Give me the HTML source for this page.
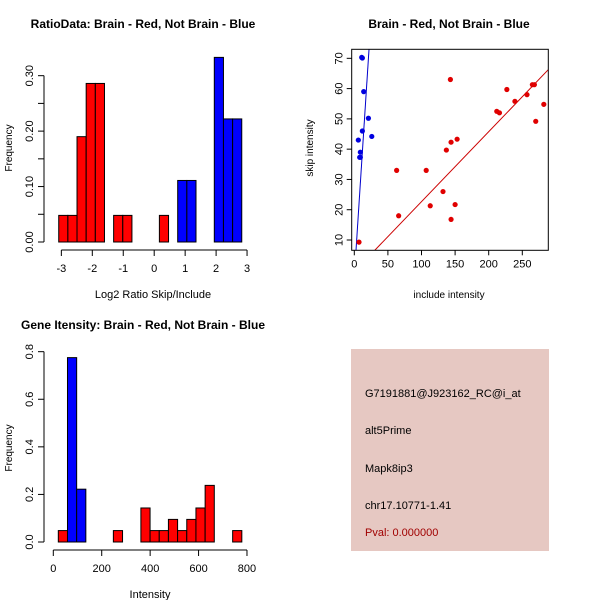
<!DOCTYPE html>
<html><head><meta charset="utf-8"><style>
body{margin:0;background:#fff;}
svg{display:block;font-family:"Liberation Sans",sans-serif;}
</style></head><body>
<svg id="c" width="600" height="600" viewBox="0 0 600 600">
<rect width="600" height="600" fill="#fff"/>
<g id="p1"></g>
<g id="p2"></g>
<g id="p3"></g>
<g id="p4">
<rect x="351" y="349" width="198" height="202" fill="#e6c8c2"/>
<text x="365" y="397" font-size="11" fill="#000">G7191881@J923162_RC@i_at</text>
<text x="365" y="434" font-size="11" fill="#000">alt5Prime</text>
<text x="365" y="472" font-size="11" fill="#000">Mapk8ip3</text>
<text x="365" y="509" font-size="11" fill="#000">chr17.10771-1.41</text>
<text x="365" y="536" font-size="11" fill="#a00000">Pval: 0.000000</text>
</g>
</svg>
<script>
// Ratio histogram data
const ratioStart = -3.085, ratioWidth = 0.2957;
const ratioBins = [0,1,2,3,4,6,7,11,13,14,17,18,19];
const ratioFreq = [0.048,0.048,0.19,0.286,0.286,0.048,0.048,0.048,0.111,0.111,0.333,0.222,0.222];
const ratioGroup = ['r','r','r','r','r','r','r','r','b','b','b','b','b'];
const ratioXTicks = [-3,-2,-1,0,1,2,3];
const ratioYTicks = [0,0.05,0.1,0.15,0.2,0.25,0.3];
const ratioYLabels = ['0.00','','0.10','','0.20','','0.30'];
// Scatter data
const redX = [7,63,66,107,113,132,137,143,144,144,150,153,212,216,227,239,257,265,268,270,282];
const redY = [9.3,33,18,33,21.3,26,39.7,63,42.3,16.8,21.7,43.3,52.5,52,59.7,55.8,58,61.3,61.3,49.2,54.8];
const blueX = [11,12,14,21,12,26,6,9,9,8];
const blueY = [70.3,70.1,59,50.2,46,44.2,43,39,37.3,37.3];
const redFit = [-0.43,0.231];
const blueFit = [-2.1,3.43];
const scXTicks = [0,50,100,150,200,250];
const scYTicks = [10,20,30,40,50,60,70];
// Gene intensity histogram data
const geneStart = 20.7, geneWidth = 37.9;
const geneBins = [0,1,2,6,9,10,11,12,13,14,15,16,19];
const geneFreq = [0.048,0.775,0.222,0.048,0.143,0.048,0.048,0.095,0.048,0.095,0.143,0.238,0.048];
const geneGroup = ['r','b','b','r','r','r','r','r','r','r','r','r','r'];
const geneXTicks = [0,200,400,600,800];
const geneYTicks = [0,0.2,0.4,0.6,0.8];
const geneYLabels = ['0.0','0.2','0.4','0.6','0.8'];

const NS='http://www.w3.org/2000/svg';
function mk(parent,tag,attrs,txt){const e=document.createElementNS(NS,tag);for(const k in attrs)e.setAttribute(k,attrs[k]);if(txt!==undefined)e.textContent=txt;parent.appendChild(e);return e;}
const col={r:'#ff0000',b:'#0000ff'};

function hist(g,o){
  const X=v=>o.x0+(v-o.xa)*o.xs, Y=v=>o.y0-v*o.ys;
  o.bins.forEach((b,i)=>{
    const l=o.start+b*o.width;
    const r=mk(g,'rect',{x:X(l),y:Y(o.freq[i]),width:X(l+o.width)-X(l),height:o.y0-Y(o.freq[i]),fill:col[o.group[i]],stroke:'#000','stroke-width':1});
    
    
  });
  // x axis
  const ax=mk(g,'g',{});
  
  
  const xt=o.xticks;
  mk(ax,'line',{x1:X(xt[0]),x2:X(xt[xt.length-1]),y1:o.axY,y2:o.axY,stroke:'#000'});
  xt.forEach(t=>{mk(ax,'line',{x1:X(t),x2:X(t),y1:o.axY,y2:o.axY+6,stroke:'#000'});
    const tx=mk(ax,'text',{x:X(t),y:o.axY+22,'font-size':11,'text-anchor':'middle'},String(t));
    
    });
  const xl=mk(g,'text',{x:o.xlabX,y:o.xlabY,'font-size':11,'text-anchor':'middle'},o.xlab);
  
  
  // y axis
  const ay=mk(g,'g',{});
  
  
  const yt=o.yticks;
  mk(ay,'line',{x1:o.axX,x2:o.axX,y1:Y(yt[0]),y2:Y(yt[yt.length-1]),stroke:'#000'});
  yt.forEach((t,i)=>{mk(ay,'line',{x1:o.axX-6,x2:o.axX,y1:Y(t),y2:Y(t),stroke:'#000'});
    if(o.ylabels[i]){const tx=mk(ay,'text',{x:0,y:0,'font-size':11,'text-anchor':'middle',transform:`translate(${o.axX-11},${Y(t)}) rotate(-90)`},o.ylabels[i]);
    
    }});
  const yl=mk(g,'text',{x:0,y:0,'font-size':10,'text-anchor':'middle',transform:`translate(12,${o.ylabY}) rotate(-90)`},'Frequency');
  
  
  const ti=mk(g,'text',{x:o.titleX,y:o.titleY,'font-size':12,'font-weight':'bold','text-anchor':'middle'},o.title);
  
  
}

hist(document.getElementById('p1'),{xa:0,x0:154.2,xs:30.95,y0:242,ys:554.4,start:ratioStart,width:ratioWidth,bins:ratioBins,freq:ratioFreq,group:ratioGroup,
  xticks:ratioXTicks,yticks:ratioYTicks,ylabels:ratioYLabels,axY:250,axX:44,xlab:'Log2 Ratio Skip/Include',xlabX:153,xlabY:298,ylabY:148,
  title:'RatioData: Brain - Red, Not Brain - Blue',titleX:143,titleY:28});
hist(document.getElementById('p3'),{xa:0,x0:53.3,xs:0.2421,y0:542,ys:237.9,start:geneStart,width:geneWidth,bins:geneBins,freq:geneFreq,group:geneGroup,
  xticks:geneXTicks,yticks:geneYTicks,ylabels:geneYLabels,axY:550,axX:44,xlab:'Intensity',xlabX:150,xlabY:598,ylabY:448,
  title:'Gene Itensity: Brain - Red, Not Brain - Blue',titleX:143,titleY:329});

// scatter
(function(){
  const g=document.getElementById('p2');
  const L=351.7,R=548.3,T=49.3,B=250.3;
  const X=v=>354.3+v*0.672, Y=v=>240-(v-10)*3.028;
  const cp=mk(g,'clipPath',{id:'clp'});mk(cp,'rect',{x:L,y:T,width:R-L,height:B-T});
  const lg=mk(g,'g',{'clip-path':'url(#clp)'});
  [[redFit,'#cc0000','red-fit-line'],[blueFit,'#0000cc','blue-fit-line']].forEach(([f,c,n])=>{
    const l=mk(lg,'line',{x1:X(-20),y1:Y(f[0]+f[1]*-20),x2:X(320),y2:Y(f[0]+f[1]*320),stroke:c,'stroke-width':1});
    
    
  });
  redX.forEach((x,i)=>{const c=mk(g,'circle',{cx:X(x),cy:Y(redY[i]),r:2.6,fill:'#e00000'});
    
    });
  blueX.forEach((x,i)=>{const c=mk(g,'circle',{cx:X(x),cy:Y(blueY[i]),r:2.6,fill:'#0000e0'});
    
    });
  const fr=mk(g,'rect',{x:L,y:T,width:R-L,height:B-T,fill:'none',stroke:'#000'});
  
  
  scXTicks.forEach(t=>{mk(g,'line',{x1:X(t),x2:X(t),y1:B,y2:B+5,stroke:'#000'});
    const tx=mk(g,'text',{x:X(t),y:B+17,'font-size':11,'text-anchor':'middle'},String(t));
    
    });
  scYTicks.forEach(t=>{mk(g,'line',{x1:L-5,x2:L,y1:Y(t),y2:Y(t),stroke:'#000'});
    const tx=mk(g,'text',{x:0,y:0,'font-size':11,'text-anchor':'middle',transform:`translate(${L-9},${Y(t)}) rotate(-90)`},String(t));
    
    });
  const xl=mk(g,'text',{x:449,y:298,'font-size':10,'text-anchor':'middle'},'include intensity');
  
  
  const yl=mk(g,'text',{x:0,y:0,'font-size':10,'text-anchor':'middle',transform:'translate(313,148) rotate(-90)'},'skip intensity');
  
  
  const ti=mk(g,'text',{x:449,y:28,'font-size':12,'font-weight':'bold','text-anchor':'middle'},'Brain - Red, Not Brain - Blue');
  
  
})();
</script>
</body></html>
